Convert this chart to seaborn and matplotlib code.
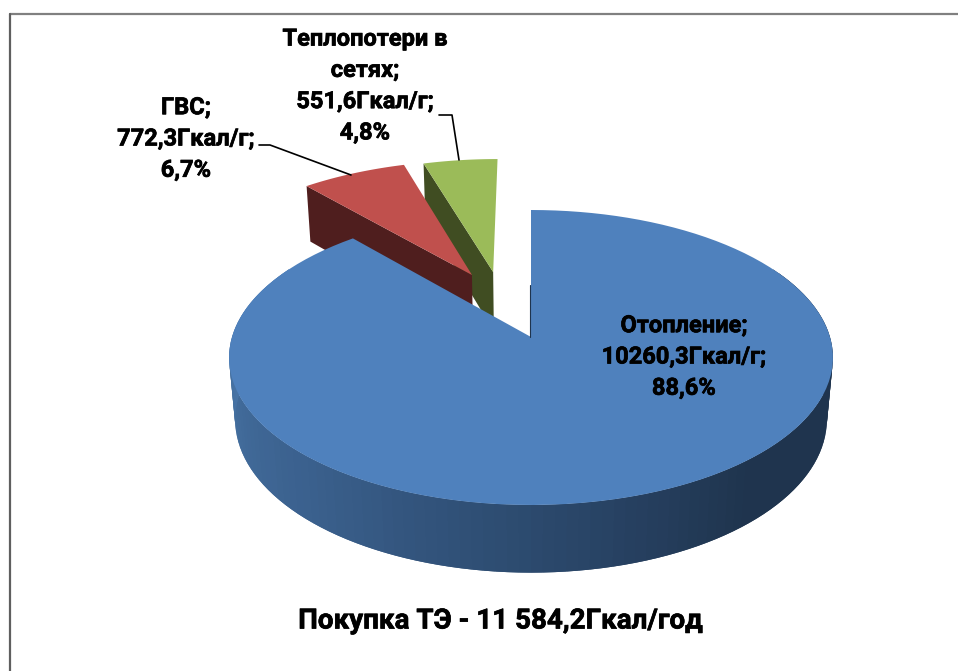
import numpy as np
import matplotlib
matplotlib.use("Agg")
import matplotlib.pyplot as plt
import matplotlib.patheffects as pe
from matplotlib.patches import Polygon
import seaborn as sns

# data
names = ["Отопление", "ГВС", "Теплопотери в\nсетях"]
values = [10260.3, 772.3, 551.6]
shown_values = ["10260,3", "772,3", "551,6"]
percents = ["88,6", "6,7", "4,8"]
title_text = "Покупка ТЭ - 11 584,2Гкал/год"
top_colors = ["#4f81bd", "#c0504d", "#9bbb59"]
wall_colors = ["#1f344e", "#4f1e1e", "#404d22"]
side_ramp = ["#4f7eb6", "#446f9f", "#3a5f8c", "#2c4a6e", "#1f344e", "#1f344e", "#1f344e"]

# perspective of the 3d pie, in pixels of the output
CX, CY = 531, 337
RX, RY = 299, 144.65
PERSP = 0.139
DROP, DROP_PERSP = 63, 0.02
# exploded slices are pushed away from the centre, in pie radii
OFFSETS = [(0, 0), (-0.21, 0.456), (-0.135, 0.479)]
RADII = [1, 1.015, 1.005]

sns.set_theme(style="white")
plt.rcParams["font.family"] = ["Roboto", "DejaVu Sans"]


def project(x, y, bottom=False):
    x, y = np.asarray(x, float), np.asarray(y, float)
    w = 1 + PERSP * y + (DROP_PERSP if bottom else 0)
    sy = RY * y - (DROP if bottom else 0)
    return CX + RX * x / w, CY - sy / w


def slice_outline(start, stop, offset, radius):
    # angles run clockwise from the top, in degrees
    t = np.radians(np.linspace(start, stop, 120))
    x = np.r_[0, radius * np.sin(t)] + offset[0]
    y = np.r_[0, radius * np.cos(t)] + offset[1]
    return x, y


shares = np.array(values) / sum(values) * 360
stops = np.cumsum(shares)
starts = stops - shares

fig = plt.figure(figsize=(9.58, 6.71), dpi=100)
ax = fig.add_axes([0, 0, 1, 1])
ax.set_xlim(0, 958)
ax.set_ylim(671, 0)
ax.axis("off")

# frame of the chart area
ax.plot([958, 10], [14, 14], color="#808080", lw=1.6)
ax.plot([10, 10], [14, 671], color="#5f5f5f", lw=1.6)

# far slices first: green, red, then the big blue one on top
for i in [2, 1]:
    off, rad = OFFSETS[i], RADII[i]
    a = np.radians(starts[i])
    x = np.array([0, rad * np.sin(a)]) + off[0]
    y = np.array([0, rad * np.cos(a)]) + off[1]
    tx, ty = project(x, y)
    bx, by = project(x, y, bottom=True)
    ax.add_patch(Polygon(np.c_[np.r_[tx, bx[::-1]], np.r_[ty, by[::-1]]],
                         fc=wall_colors[i], ec="none"))
    sx, sy = project(*slice_outline(starts[i], stops[i], off, rad))
    ax.add_patch(Polygon(np.c_[sx, sy], fc=top_colors[i], ec="none"))

# round side of the blue slice, overlapping quads so no seams show
arc = np.radians(np.linspace(60, 300, 121))
arc_x, arc_y = np.sin(arc), np.cos(arc)
tx, ty = project(arc_x, arc_y)
bx, by = project(arc_x, arc_y, bottom=True)
# colours go from the right end of the arc to the left end
shades = sns.blend_palette(side_ramp[::-1], n_colors=len(arc) - 1)
for j in range(len(arc) - 1):
    k = min(j + 2, len(arc) - 1)
    ax.add_patch(Polygon([(tx[j], ty[j]), (tx[k], ty[k]), (bx[k], by[k]), (bx[j], by[j])],
                         fc=shades[j], ec="none"))

sx, sy = project(*slice_outline(starts[0], stops[0], OFFSETS[0], RADII[0]))
ax.add_patch(Polygon(np.c_[sx, sy], fc=top_colors[0], ec="none"))
ax.plot([CX - 1, CX - 1], [285, CY], color=wall_colors[0], lw=0.8)

# leader lines
ax.plot([259, 270, 351], [145, 145, 175], color="black", lw=1.2)
ax.plot([439, 452, 459], [115, 115, 160], color="black", lw=1.2)

# labels
heavy = [pe.withStroke(linewidth=0.5, foreground="black")]
labels = [f"{n};\n{v}Гкал/г;\n{p}%" for n, v, p in zip(names, shown_values, percents)]
label_pos = [(684, 357), (186, 139), (365, 86)]
for text, (lx, ly) in zip(labels, label_pos):
    ax.text(lx, ly, text, ha="center", va="center", ma="center", fontsize=17,
            fontweight="bold", color="black", linespacing=1.46, path_effects=heavy)

ax.text(500, 621, title_text, ha="center", va="center", fontsize=20,
        fontweight="bold", color="black", path_effects=heavy)

fig.savefig("out.png", dpi=100)
